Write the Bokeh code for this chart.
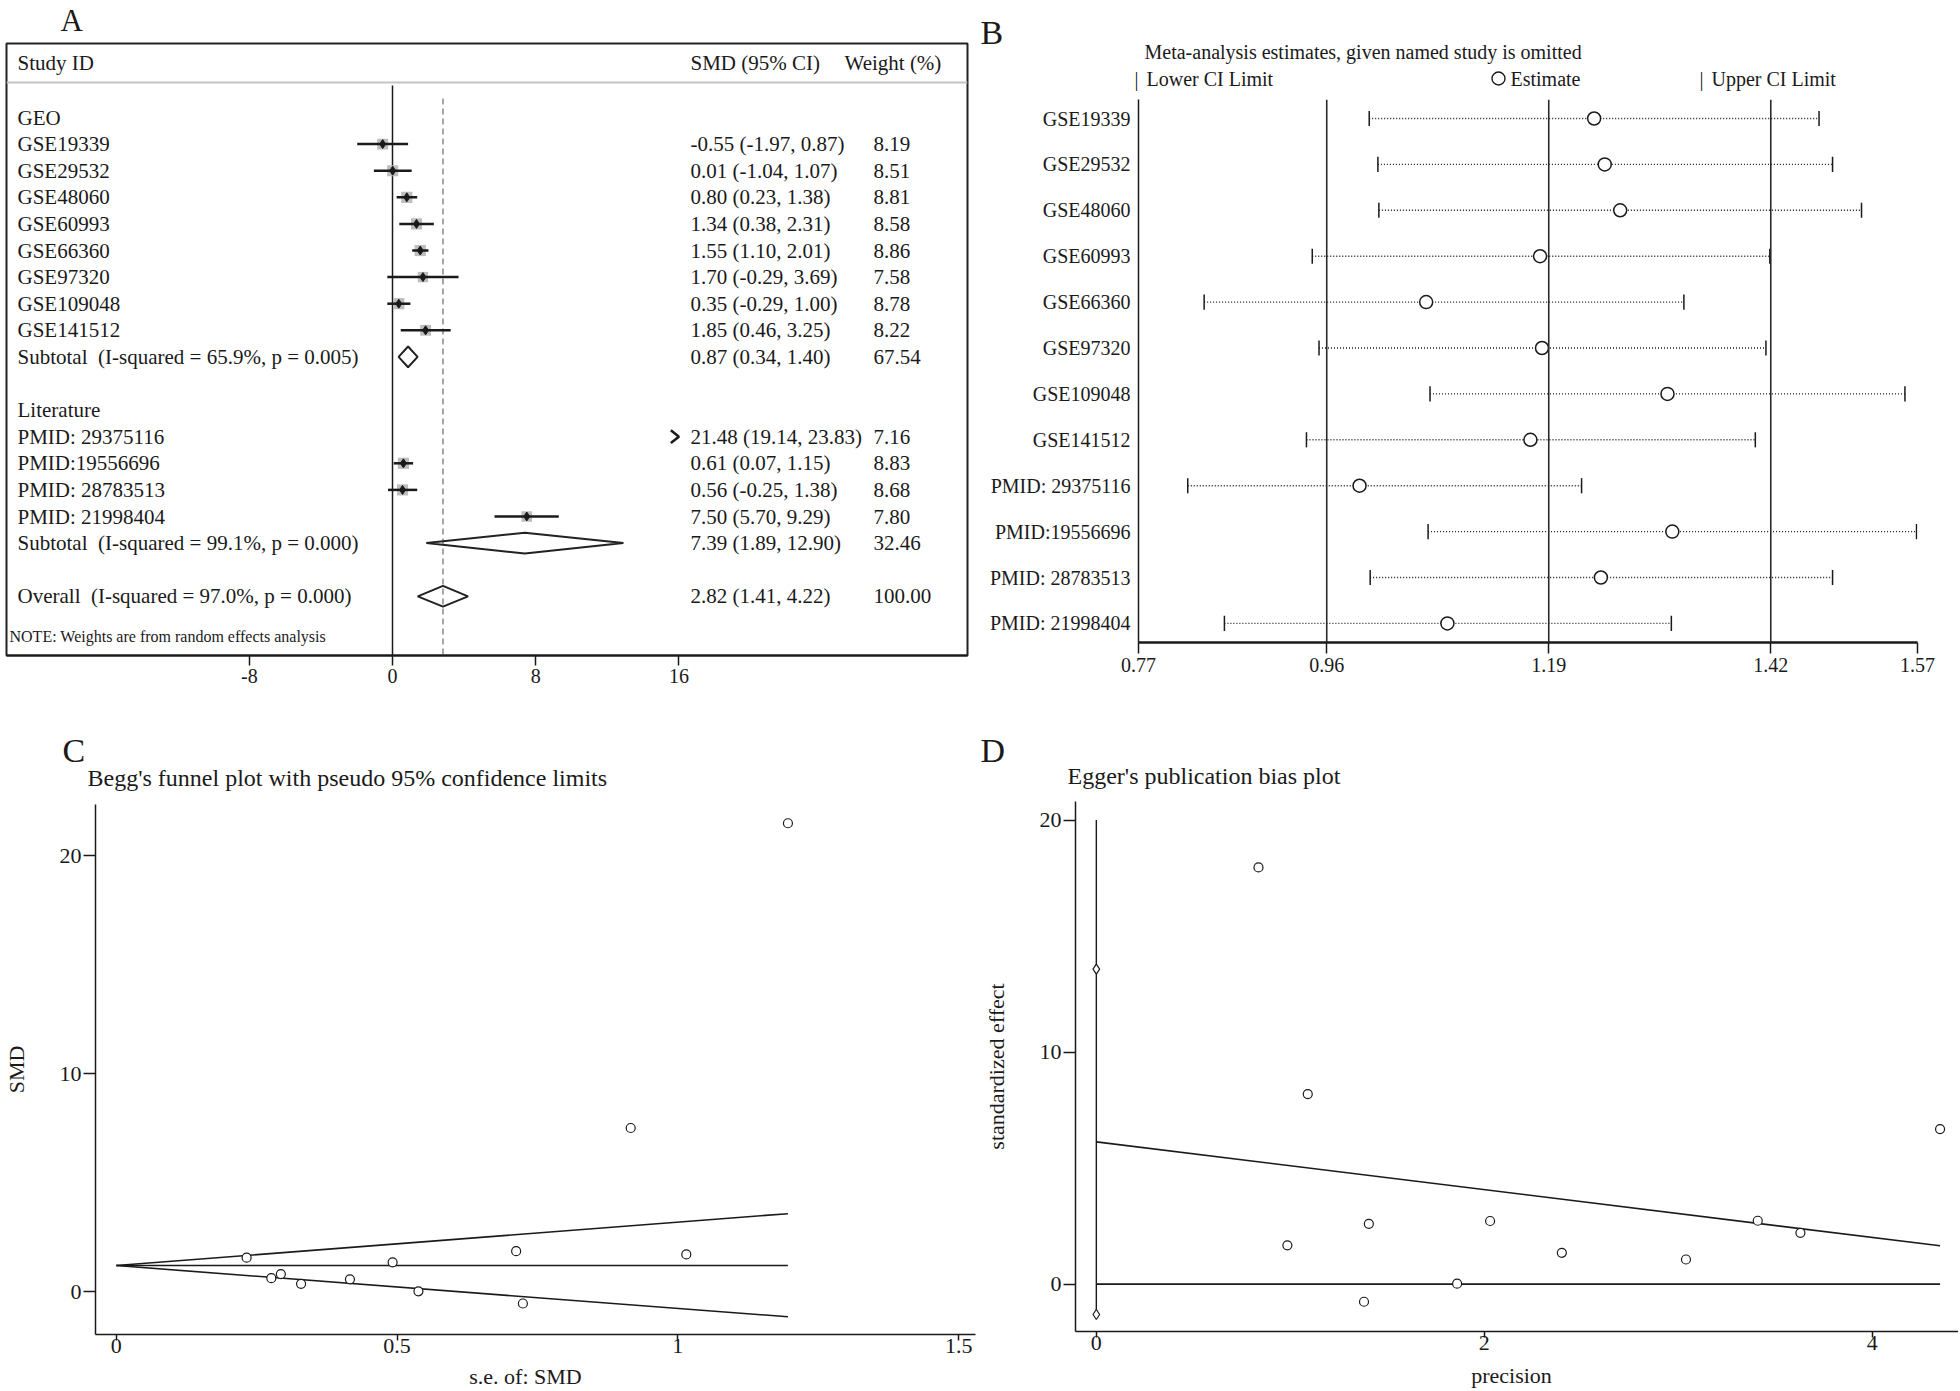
import math
from bokeh.plotting import figure
from bokeh.models import Range1d, FixedTicker, Span, ColumnDataSource
from bokeh.layouts import column, row
from bokeh.embed import file_html
from bokeh.resources import INLINE
from bokeh.core.properties import value

FONT = "Liberation Serif"
INK = "#1a1a1a"
NB = "\u00a0"

# ------------------------------------------------------------------ data
# Panel A : forest plot
geo_ids = ["GSE19339", "GSE29532", "GSE48060", "GSE60993", "GSE66360",
           "GSE97320", "GSE109048", "GSE141512"]
geo_smd = [-0.55, 0.01, 0.80, 1.34, 1.55, 1.70, 0.35, 1.85]
geo_lo = [-1.97, -1.04, 0.23, 0.38, 1.10, -0.29, -0.29, 0.46]
geo_hi = [0.87, 1.07, 1.38, 2.31, 2.01, 3.69, 1.00, 3.25]
geo_w = [8.19, 8.51, 8.81, 8.58, 8.86, 7.58, 8.78, 8.22]

lit_ids = ["PMID: 29375116", "PMID:19556696", "PMID: 28783513", "PMID: 21998404"]
lit_smd = [21.48, 0.61, 0.56, 7.50]
lit_lo = [19.14, 0.07, -0.25, 5.70]
lit_hi = [23.83, 1.15, 1.38, 9.29]
lit_w = [7.16, 8.83, 8.68, 7.80]

pooled_names = ["Subtotal" + NB + NB + "(I-squared = 65.9%, p = 0.005)",
                "Subtotal" + NB + NB + "(I-squared = 99.1%, p = 0.000)",
                "Overall" + NB + NB + "(I-squared = 97.0%, p = 0.000)"]
pooled_smd = [0.87, 7.39, 2.82]
pooled_lo = [0.34, 1.89, 1.41]
pooled_hi = [1.40, 12.90, 4.22]
pooled_w = [67.54, 32.46, 100.00]
forest_ticks = [-8, 0, 8, 16]

# Panel B : influence analysis
inf_ids = geo_ids + lit_ids
inf_est = [1.237, 1.248, 1.264, 1.181, 1.063, 1.183, 1.313, 1.171, 0.994, 1.318, 1.244, 1.085]
inf_lo = [1.004, 1.013, 1.014, 0.945, 0.833, 0.952, 1.067, 0.939, 0.816, 1.065, 1.005, 0.854]
inf_hi = [1.470, 1.484, 1.514, 1.419, 1.330, 1.415, 1.559, 1.404, 1.224, 1.571, 1.484, 1.317]
inf_ref = [0.96, 1.19, 1.42]          # full-analysis lower CI, estimate, upper CI
inf_axis = [0.765, 1.572]
inf_tick_labels = ["0.77", "0.96", "1.19", "1.42", "1.57"]

# Panel C : Begg's funnel plot
begg_se = [0.724, 0.538, 0.293, 0.492, 0.232, 1.015, 0.329, 0.712, 1.196, 0.276, 0.416, 0.916]
begg_smd = geo_smd + lit_smd
funnel_se = [0.0, 1.196]
funnel_mid = [1.19, 1.19]
funnel_up = [1.19, 3.57]
funnel_low = [1.19, -1.16]

# Panel D : Egger's plot
egger_prec = [1.38, 1.86, 3.41, 2.03, 4.35, 0.985, 3.04, 1.405, 0.836, 3.63, 2.40, 1.09]
egger_std = [-0.76, 0.02, 2.73, 2.72, 6.68, 1.67, 1.06, 2.60, 17.96, 2.21, 1.35, 8.19]
egger_fit_x = [0.0, 4.35]
egger_fit_y = [6.13, 1.65]
egger_int_ci = [-1.31, 13.58]
egger_vline_top = 20.0


# ------------------------------------------------------------------ helpers
def fig(**kw):
    p = figure(output_backend="svg", toolbar_location=None, title=None, **kw)
    p.frame_align = False
    p.background_fill_color = "white"
    p.border_fill_color = "white"
    return p


def text_panel(x0, y0, w, h):
    """A text-only strip whose frame fills it; coordinates are page pixels."""
    p = fig(width=w, height=h, x_range=Range1d(x0, x0 + w), y_range=Range1d(y0 + h, y0),
            x_axis_type=None, y_axis_type=None, min_border_left=0, min_border_right=0,
            min_border_top=0, min_border_bottom=0)
    p.outline_line_color = None
    p.xgrid.visible = False
    p.ygrid.visible = False
    return p


def txt(p, xs, ys, texts, size, align="left", baseline="middle", color=INK):
    src = ColumnDataSource(dict(x=xs, y=ys, t=texts))
    p.text(x="x", y="y", text="t", source=src, text_font=value(FONT),
           text_font_size=size, text_align=align, text_baseline=baseline,
           text_color=color)


def style_axes(p, tick_size):
    for ax in p.axis:
        ax.axis_line_color = INK
        ax.axis_line_width = 1.5
        ax.major_tick_line_color = INK
        ax.major_tick_line_width = 1.5
        ax.minor_tick_line_color = None
        ax.major_label_text_font = FONT
        ax.major_label_text_font_size = tick_size
        ax.major_label_text_color = INK
        ax.axis_label_text_font = FONT
        ax.axis_label_text_font_style = "normal"
        ax.axis_label_text_color = INK
    p.xgrid.visible = False
    p.ygrid.visible = False


# ------------------------------------------------------------------ Panel A
def A_x(px):
    return (px - 392.0) / 17.9


def A_y(py):
    return (py - 117.0) / 26.6


hA = text_panel(0, 0, 980, 41)
txt(hA, [60], [20], ["A"], "31px", baseline="middle")

pA = fig(width=980, height=674,
         x_range=Range1d(A_x(6), A_x(967)), y_range=Range1d(A_y(655), A_y(43)),
         y_axis_type=None, min_border_left=6, min_border_right=13,
         min_border_top=2, min_border_bottom=60)
pA.outline_line_color = "#222222"
pA.outline_line_width = 2
style_axes(pA, "20px")
pA.xaxis.ticker = FixedTicker(ticks=forest_ticks)
pA.xaxis.major_label_overrides = {t: str(t) for t in forest_ticks}
pA.xaxis.major_tick_out = 10
pA.xaxis.major_tick_in = 0
pA.xaxis.major_label_standoff = 3
pA.xaxis.axis_line_width = 2

geo_rows = list(range(1, 1 + len(geo_ids)))
geo_sub_row = geo_rows[-1] + 1
lit_head_row = geo_sub_row + 2
lit_rows = list(range(lit_head_row + 1, lit_head_row + 1 + len(lit_ids)))
lit_sub_row = lit_rows[-1] + 1
overall_row = lit_sub_row + 2
pooled_rows = [geo_sub_row, lit_sub_row, overall_row]

y_bottom = A_y(655)
xmax = forest_ticks[-1]

pA.line([A_x(6), A_x(967)], [A_y(82), A_y(82)], line_color="#c4c4c4", line_width=2)
pA.line([0, 0], [A_y(85), y_bottom], line_color=INK, line_width=1.5)
pA.line([pooled_smd[2], pooled_smd[2]], [A_y(98), y_bottom], line_color="#777777",
        line_width=1.3, line_dash="6 4")

s_rows = geo_rows + lit_rows
s_smd = geo_smd + lit_smd
s_lo = geo_lo + lit_lo
s_hi = geo_hi + lit_hi
s_w = geo_w + lit_w
seg = dict(x0=[], x1=[], y=[])
box = dict(x=[], y=[], s=[])
arrows_x, arrows_y = [], []
for r, e, lo, hi, w in zip(s_rows, s_smd, s_lo, s_hi, s_w):
    if lo < xmax:
        seg["x0"].append(lo)
        seg["x1"].append(min(hi, xmax))
        seg["y"].append(r)
    if e <= xmax:
        box["x"].append(e)
        box["y"].append(r)
        box["s"].append(11 * math.sqrt(w / 8.5))
    if hi > xmax:
        arrows_x.append([xmax - 0.45, xmax, xmax - 0.45])
        arrows_y.append([r - 0.24, r, r + 0.24])
pA.scatter(x="x", y="y", size="s", source=ColumnDataSource(box), marker="square",
           fill_color="#bdbdbd", line_color=None)
pA.segment(x0="x0", x1="x1", y0="y", y1="y", source=ColumnDataSource(seg),
           line_color=INK, line_width=2.5)
pA.scatter(x="x", y="y", source=ColumnDataSource(box), marker="diamond", size=9,
           fill_color=INK, line_color=INK)
pA.multi_line(xs=arrows_x, ys=arrows_y, line_color=INK, line_width=2.5)

dxs, dys = [], []
for r, e, lo, hi in zip(pooled_rows, pooled_smd, pooled_lo, pooled_hi):
    dxs.append([lo, e, hi, e])
    dys.append([r, r - 0.39, r, r + 0.39])
pA.patches(xs=dxs, ys=dys, fill_alpha=0, line_color="#222222", line_width=2)

names = ["GEO"] + geo_ids + [pooled_names[0], "Literature"] + lit_ids + pooled_names[1:]
name_rows = [0] + geo_rows + [geo_sub_row, lit_head_row] + lit_rows + [lit_sub_row, overall_row]
txt(pA, [A_x(17)] * len(names), name_rows, names, "21px")

all_rows = s_rows + pooled_rows
all_smd = s_smd + pooled_smd
all_lo = s_lo + pooled_lo
all_hi = s_hi + pooled_hi
all_w = s_w + pooled_w
smd_txt = [f"{e:.2f} ({lo:.2f}, {hi:.2f})" for e, lo, hi in zip(all_smd, all_lo, all_hi)]
w_txt = [f"{w:.2f}" for w in all_w]
txt(pA, [A_x(690)] * len(all_rows), all_rows, smd_txt, "21px")
txt(pA, [A_x(873)] * len(all_rows), all_rows, w_txt, "21px")
txt(pA, [A_x(17), A_x(690), A_x(844)], [A_y(62)] * 3,
    ["Study ID", "SMD (95% CI)", "Weight (%)"], "21px")
txt(pA, [A_x(9)], [A_y(636)], ["NOTE: Weights are from random effects analysis"], "16px")


# ------------------------------------------------------------------ Panel B
def B_y(py):
    return (py - 118.0) / 45.9


hB = text_panel(980, 0, 978, 99)
txt(hB, [980], [32], ["B"], "34px", baseline="alphabetic")
txt(hB, [1144], [51], ["Meta-analysis estimates, given named study is omitted"], "20px")
txt(hB, [1134, 1699], [78, 78], ["|", "|"], "20px")
txt(hB, [1146, 1510, 1711], [78, 78, 78], ["Lower CI Limit", "Estimate", "Upper CI Limit"], "20px")
hB.scatter([1498], [78], marker="circle", size=13, fill_color="white",
           line_color=INK, line_width=1.4)

pB = fig(width=978, height=616,
         x_range=Range1d(inf_axis[0], inf_axis[1]), y_range=Range1d(B_y(642), B_y(99)),
         min_border_left=158, min_border_right=41, min_border_top=0,
         min_border_bottom=73)
pB.outline_line_color = None
style_axes(pB, "20px")
b_rows = list(range(len(inf_ids)))
pB.yaxis.ticker = FixedTicker(ticks=b_rows)
pB.yaxis.major_label_overrides = {i: n for i, n in zip(b_rows, inf_ids)}
pB.yaxis.major_tick_line_color = None
pB.yaxis.major_tick_out = 0
pB.yaxis.major_tick_in = 0
pB.yaxis.major_label_standoff = 8
b_ticks = [inf_axis[0]] + inf_ref + [inf_axis[1]]
pB.xaxis.ticker = FixedTicker(ticks=b_ticks)
pB.xaxis.major_label_overrides = {t: s for t, s in zip(b_ticks, inf_tick_labels)}
pB.xaxis.major_tick_out = 11
pB.xaxis.major_tick_in = 0
pB.xaxis.major_label_standoff = 4
pB.xaxis.axis_line_width = 2.5

for v in inf_ref:
    pB.add_layout(Span(location=v, dimension="height", line_color="#2a2a2a", line_width=1.6))

bsrc = ColumnDataSource(dict(y=b_rows, est=inf_est, lo=inf_lo, hi=inf_hi,
                             y0=[r - 0.165 for r in b_rows], y1=[r + 0.165 for r in b_rows]))
pB.segment(x0="lo", x1="hi", y0="y", y1="y", source=bsrc, line_color=INK,
           line_width=1.4, line_dash="1 2")
pB.segment(x0="lo", x1="lo", y0="y0", y1="y1", source=bsrc, line_color=INK, line_width=1.5)
pB.segment(x0="hi", x1="hi", y0="y0", y1="y1", source=bsrc, line_color=INK, line_width=1.5)
pB.scatter(x="est", y="y", source=bsrc, marker="circle", size=13, fill_color="white",
           line_color=INK, line_width=1.5)


# ------------------------------------------------------------------ Panel C
def C_x(px):
    return (px - 109.0) / 566.0


def C_y(py):
    return (1291.0 - py) / 21.8


hC = text_panel(0, 715, 980, 89)
txt(hC, [62], [750], ["C"], "34px", baseline="alphabetic")
txt(hC, [87], [777], ["Begg's funnel plot with pseudo 95% confidence limits"], "24px")

pC = fig(width=980, height=559,
         x_range=Range1d(C_x(88), C_x(975)), y_range=Range1d(C_y(1334), C_y(804)),
         min_border_left=88, min_border_right=5, min_border_top=0,
         min_border_bottom=29)
pC.outline_line_color = None
style_axes(pC, "22px")
pC.xaxis.ticker = FixedTicker(ticks=[0, 0.5, 1, 1.5])
pC.xaxis.major_label_overrides = {0: "0", 0.5: "0.5", 1: "1", 1.5: "1.5"}
pC.xaxis.major_tick_out = 6
pC.xaxis.major_tick_in = 0
pC.xaxis.major_label_standoff = -2
pC.yaxis.ticker = FixedTicker(ticks=[0, 10, 20])
pC.yaxis.major_tick_out = 12
pC.yaxis.major_tick_in = 0
pC.yaxis.major_label_standoff = 2
pC.yaxis.major_label_orientation = "horizontal"
pC.yaxis.axis_label = "SMD"
pC.yaxis.axis_label_text_font_size = "22px"
pC.yaxis.axis_label_standoff = 28

for yy in (funnel_up, funnel_mid, funnel_low):
    pC.line(funnel_se, yy, line_color=INK, line_width=1.6)
pC.scatter(begg_se, begg_smd, marker="circle", size=9, fill_color="white",
           line_color=INK, line_width=1.2)

fC = text_panel(0, 1363, 980, 27)
txt(fC, [525], [1376], ["s.e. of: SMD"], "22px", align="center")


# ------------------------------------------------------------------ Panel D
def D_x(px):
    return (px - 1089.0) / 195.5


def D_y(py):
    return (1283.6 - py) / 23.2


hD = text_panel(980, 715, 978, 86)
txt(hD, [980], [750], ["D"], "34px", baseline="alphabetic")
txt(hD, [1067], [775], ["Egger's publication bias plot"], "24px")

pD = fig(width=978, height=562,
         x_range=Range1d(D_x(1068), D_x(1958)), y_range=Range1d(D_y(1331), D_y(801)),
         min_border_left=88, min_border_right=0, min_border_top=0,
         min_border_bottom=32)
pD.outline_line_color = None
style_axes(pD, "22px")
pD.xaxis.ticker = FixedTicker(ticks=[0, 2, 4])
pD.xaxis.major_tick_out = 6
pD.xaxis.major_tick_in = 0
pD.xaxis.major_label_standoff = -2
pD.yaxis.ticker = FixedTicker(ticks=[0, 10, 20])
pD.yaxis.major_tick_out = 12
pD.yaxis.major_tick_in = 0
pD.yaxis.major_label_standoff = 2
pD.yaxis.axis_label = "standardized effect"
pD.yaxis.axis_label_text_font_size = "22px"
pD.yaxis.axis_label_standoff = 28

pD.line([0, 0], [egger_int_ci[0], egger_vline_top], line_color=INK, line_width=1.4)
pD.line(egger_fit_x, [0, 0], line_color=INK, line_width=1.6)
pD.line(egger_fit_x, egger_fit_y, line_color=INK, line_width=1.6)
pD.scatter([0, 0], egger_int_ci, marker="diamond", size=10, fill_color="white",
           line_color=INK, line_width=1.2)
pD.scatter(egger_prec, egger_std, marker="circle", size=9, fill_color="white",
           line_color=INK, line_width=1.2)

fD = text_panel(980, 1363, 978, 27)
txt(fD, [1511], [1375], ["precision"], "22px", align="center")

layout = row(column(hA, pA, hC, pC, fC), column(hB, pB, hD, pD, fD))
open("out.html", "w").write(file_html(layout, INLINE))
